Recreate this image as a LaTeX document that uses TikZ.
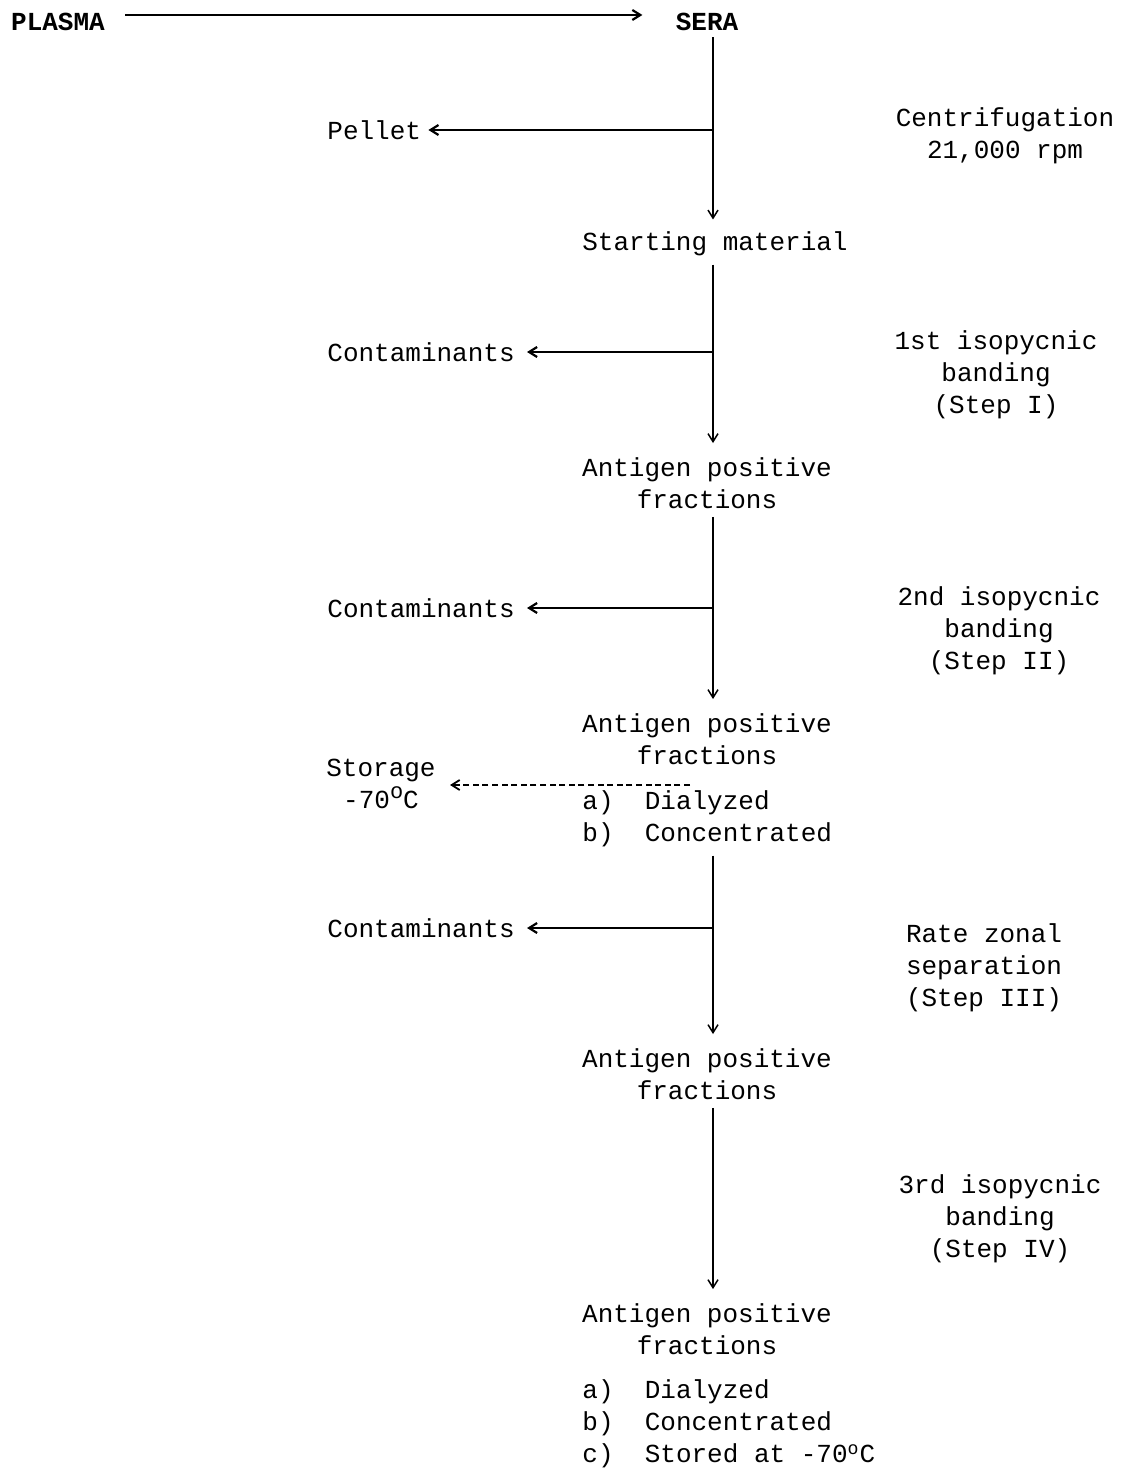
\documentclass[tikz,border=0pt]{standalone}
\usepackage{fontspec}
\newfontfamily\tw{Liberation Mono}
\usetikzlibrary{arrows.meta,calc}
\begin{document}
\begin{tikzpicture}[x=0.5pt,y=-0.5pt,
  txt/.style={font=\tw\fontsize{13pt}{16pt}\selectfont, inner sep=0pt, align=center},
  hdr/.style={font=\tw\bfseries\fontsize{13pt}{16pt}\selectfont, inner sep=0pt},
  flow/.style={line width=0.75pt, -{Straight Barb[length=4pt,width=5pt]}},
  branch/.style={line width=1.1pt, -{Straight Barb[length=4pt,width=5pt]}},
  store/.style={line width=0.9pt, dash pattern=on 3pt off 1.8pt, -{Straight Barb[length=4pt,width=5pt]}}]
\useasboundingbox (0,0) rectangle (1125,1471);
\fill[white] (0,0) rectangle (1125,1471);

% flow nodes
\node[hdr] (plasma) at (58,22) {PLASMA};
\node[hdr] (sera) at (707,22) {SERA};
\node[txt] (start) at (715,244) {Starting material};
\node[txt] (ap1) at (707,483) {Antigen positive\\fractions};
\node[txt] (ap2) at (707,739) {Antigen positive\\fractions};
\node[txt, align=left, anchor=west] (list1) at (582,819) {a)\ \ Dialyzed\\b)\ \ Concentrated};
\node[txt] (ap3) at (707,1074) {Antigen positive\\fractions};
\node[txt] (ap4) at (707,1329) {Antigen positive\\fractions};
\node[txt, align=left, anchor=west] (list2) at (582,1424) {a)\ \ Dialyzed\\b)\ \ Concentrated\\c)\ \ Stored at -70\textsuperscript{o}C};

% side outputs
\node[txt, anchor=west] (pellet) at (327,130) {Pellet};
\node[txt, anchor=west] (cont1) at (327,352) {Contaminants};
\node[txt, anchor=west] (cont2) at (327,608) {Contaminants};
\node[txt, anchor=west] (cont3) at (327,928) {Contaminants};
\node[txt] (storage) at (381,784) {Storage\\-70\raisebox{0.7ex}{\fontsize{11pt}{11pt}\selectfont o}C};

% step labels
\node[txt] (r1) at (1005,136) {Centrifugation\\21,000 rpm};
\node[txt] (r2) at (996,375) {1st isopycnic\\banding\\(Step I)};
\node[txt] (r3) at (999,631) {2nd isopycnic\\banding\\(Step II)};
\node[txt] (r4) at (984,968) {Rate zonal\\separation\\(Step III)};
\node[txt] (r5) at (1000,1219) {3rd isopycnic\\banding\\(Step IV)};

% spine and branch points
\coordinate (spine) at (713,0);
\coordinate (b1) at (713,130);
\coordinate (b2) at (713,352);
\coordinate (b3) at (713,608);
\coordinate (b4) at (713,928);
\coordinate (d0) at (690,785);

% connectors
\draw[line width=1.1pt, -{Straight Barb[length=4pt,width=5pt]}]
  ($(plasma.east)+(20,-7)$) -- ($(sera.west)+(-33,-7)$);
\draw[flow, shorten <=3pt, shorten >=6pt] (spine |- sera.south) -- (spine |- start.north);
\draw[flow, shorten <=4pt, shorten >=7pt] (spine |- start.south) -- (spine |- ap1.north);
\draw[flow, shorten <=4pt, shorten >=7pt] (spine |- ap1.south) -- (spine |- ap2.north);
\draw[flow, shorten <=4pt, shorten >=7pt] (spine |- list1.south) -- (spine |- ap3.north);
\draw[flow, shorten <=4pt, shorten >=7pt] (spine |- ap3.south) -- (spine |- ap4.north);

\draw[branch, shorten >=3.5pt] (b1) -- (pellet.east |- b1);
\draw[branch, shorten >=6pt] (b2) -- (cont1.east |- b2);
\draw[branch, shorten >=6pt] (b3) -- (cont2.east |- b3);
\draw[branch, shorten >=6pt] (b4) -- (cont3.east |- b4);
\draw[store, shorten >=7pt] (d0) -- (storage.east |- d0);
\end{tikzpicture}
\end{document}
